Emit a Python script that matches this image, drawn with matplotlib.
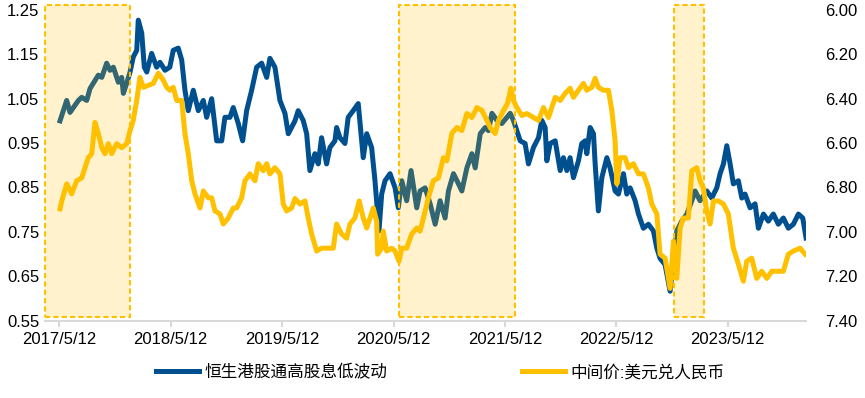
import matplotlib
matplotlib.use('Agg')
import matplotlib.pyplot as plt
import matplotlib.transforms as mtransforms
import matplotlib.dates as mdates
from matplotlib.patches import Rectangle
from matplotlib.ticker import FixedLocator, FormatStrFormatter
import pandas as pd

plt.rcParams['font.family'] = ['Liberation Sans', 'Noto Sans CJK SC']

# ---------------- data (time as decimal years) ----------------
blue_name = '恒生港股通高股息低波动'
cny_name = '中间价:美元兑人民币'

blue_t = [2017.365, 2017.425, 2017.455, 2017.530, 2017.560, 2017.605, 2017.635, 2017.679, 2017.709, 2017.740,
          2017.784, 2017.814, 2017.844, 2017.889, 2017.919, 2017.934, 2017.964, 2017.994, 2018.023, 2018.054,
          2018.068, 2018.099, 2018.122, 2018.144, 2018.188, 2018.233, 2018.263, 2018.308, 2018.351, 2018.382,
          2018.427, 2018.458, 2018.487, 2018.517, 2018.562, 2018.607, 2018.652, 2018.682, 2018.727, 2018.772,
          2018.817, 2018.846, 2018.891, 2018.921, 2018.966, 2019.005, 2019.041, 2019.086, 2019.131, 2019.176,
          2019.221, 2019.250, 2019.295, 2019.340, 2019.385, 2019.415, 2019.475, 2019.504, 2019.549, 2019.580,
          2019.609, 2019.654, 2019.684, 2019.714, 2019.759, 2019.789, 2019.834, 2019.849, 2019.879, 2019.924,
          2019.953, 2019.998, 2020.043, 2020.088, 2020.119, 2020.163, 2020.193, 2020.229, 2020.253, 2020.283,
          2020.328, 2020.373, 2020.402, 2020.433, 2020.477, 2020.516, 2020.567, 2020.597, 2020.642, 2020.687,
          2020.732, 2020.776, 2020.821, 2020.851, 2020.896, 2020.941, 2020.971, 2021.016, 2021.061, 2021.091,
          2021.136, 2021.180, 2021.210, 2021.241, 2021.286, 2021.330, 2021.375, 2021.405, 2021.434, 2021.465,
          2021.495, 2021.539, 2021.569, 2021.614, 2021.659, 2021.689, 2021.719, 2021.734, 2021.764, 2021.809,
          2021.854, 2021.883, 2021.914, 2021.943, 2021.973, 2022.018, 2022.048, 2022.078, 2022.093, 2022.123,
          2022.153, 2022.168, 2022.197, 2022.228, 2022.273, 2022.302, 2022.347, 2022.377, 2022.422, 2022.452,
          2022.482, 2022.527, 2022.557, 2022.601, 2022.646, 2022.691, 2022.722, 2022.751, 2022.796, 2022.841,
          2022.871, 2022.901, 2022.946, 2022.991, 2023.036, 2023.065, 2023.110, 2023.170, 2023.215, 2023.260,
          2023.290, 2023.320, 2023.350, 2023.380, 2023.409, 2023.454, 2023.485, 2023.514, 2023.559, 2023.604,
          2023.634, 2023.679, 2023.723, 2023.768, 2023.813, 2023.858, 2023.903, 2023.948, 2023.993, 2024.032,
          2024.062]
blue_v = [1.000, 1.046, 1.019, 1.046, 1.053, 1.046, 1.073, 1.091, 1.103, 1.098,
          1.130, 1.114, 1.121, 1.087, 1.098, 1.062, 1.085, 1.110, 1.144, 1.159,
          1.227, 1.198, 1.121, 1.110, 1.152, 1.121, 1.132, 1.114, 1.121, 1.159,
          1.164, 1.137, 1.069, 1.023, 1.069, 1.023, 1.046, 1.008, 1.050, 0.955,
          0.955, 1.008, 1.008, 1.030, 0.994, 0.955, 1.023, 1.069, 1.121, 1.130,
          1.098, 1.141, 1.121, 1.046, 1.017, 0.971, 1.000, 1.023, 1.001, 0.971,
          0.888, 0.926, 0.903, 0.962, 0.903, 0.940, 0.955, 0.985, 0.962, 0.949,
          1.008, 1.023, 1.039, 0.917, 0.971, 0.940, 0.865, 0.752, 0.835, 0.865,
          0.881, 0.849, 0.804, 0.865, 0.820, 0.888, 0.804, 0.842, 0.849, 0.813,
          0.767, 0.820, 0.781, 0.842, 0.881, 0.858, 0.842, 0.894, 0.926, 0.894,
          0.971, 0.985, 0.978, 1.017, 1.001, 0.994, 1.008, 1.017, 1.001, 0.978,
          0.955, 0.949, 0.903, 0.940, 0.962, 1.001, 0.985, 0.910, 0.949, 0.955,
          0.888, 0.917, 0.888, 0.917, 0.872, 0.910, 0.949, 0.955, 0.926, 0.985,
          0.971, 0.903, 0.797, 0.872, 0.917, 0.894, 0.842, 0.835, 0.881, 0.835,
          0.849, 0.820, 0.790, 0.758, 0.767, 0.752, 0.713, 0.690, 0.676, 0.616,
          0.684, 0.752, 0.774, 0.790, 0.820, 0.842, 0.820, 0.842, 0.826, 0.849,
          0.881, 0.903, 0.944, 0.903, 0.858, 0.865, 0.826, 0.835, 0.804, 0.813,
          0.758, 0.790, 0.774, 0.790, 0.767, 0.781, 0.758, 0.767, 0.790, 0.781,
          0.736]

cny_t = [2017.365, 2017.381, 2017.425, 2017.470, 2017.515, 2017.560, 2017.590, 2017.619, 2017.650, 2017.679,
         2017.709, 2017.740, 2017.769, 2017.799, 2017.829, 2017.874, 2017.919, 2017.964, 2017.994, 2018.023,
         2018.054, 2018.083, 2018.113, 2018.158, 2018.203, 2018.248, 2018.293, 2018.323, 2018.351, 2018.382,
         2018.413, 2018.458, 2018.487, 2018.517, 2018.548, 2018.577, 2018.622, 2018.652, 2018.697, 2018.727,
         2018.757, 2018.802, 2018.831, 2018.876, 2018.921, 2018.951, 2018.996, 2019.026, 2019.071, 2019.116,
         2019.145, 2019.190, 2019.221, 2019.250, 2019.295, 2019.340, 2019.370, 2019.400, 2019.445, 2019.475,
         2019.520, 2019.565, 2019.594, 2019.625, 2019.670, 2019.714, 2019.774, 2019.819, 2019.849, 2019.894,
         2019.939, 2019.969, 2020.013, 2020.052, 2020.088, 2020.119, 2020.148, 2020.178, 2020.208, 2020.217,
         2020.253, 2020.267, 2020.298, 2020.343, 2020.373, 2020.408, 2020.433, 2020.477, 2020.522, 2020.567,
         2020.597, 2020.627, 2020.671, 2020.716, 2020.761, 2020.806, 2020.837, 2020.881, 2020.926, 2020.971,
         2021.016, 2021.061, 2021.106, 2021.151, 2021.196, 2021.225, 2021.270, 2021.300, 2021.345, 2021.381,
         2021.411, 2021.434, 2021.465, 2021.510, 2021.555, 2021.614, 2021.659, 2021.704, 2021.749, 2021.779,
         2021.809, 2021.854, 2021.899, 2021.943, 2021.973, 2022.018, 2022.063, 2022.093, 2022.138, 2022.168,
         2022.197, 2022.242, 2022.287, 2022.318, 2022.347, 2022.363, 2022.392, 2022.437, 2022.467, 2022.512,
         2022.557, 2022.601, 2022.646, 2022.677, 2022.722, 2022.751, 2022.796, 2022.841, 2022.871, 2022.901,
         2022.931, 2022.960, 2023.005, 2023.036, 2023.081, 2023.110, 2023.140, 2023.170, 2023.200, 2023.230,
         2023.275, 2023.320, 2023.364, 2023.409, 2023.454, 2023.499, 2023.529, 2023.574, 2023.619, 2023.664,
         2023.709, 2023.754, 2023.799, 2023.858, 2023.903, 2023.948, 2024.008, 2024.053]
cny_v = [6.897, 6.861, 6.784, 6.829, 6.770, 6.757, 6.711, 6.666, 6.648, 6.507,
         6.557, 6.621, 6.648, 6.603, 6.648, 6.603, 6.621, 6.603, 6.544, 6.498,
         6.408, 6.304, 6.349, 6.340, 6.331, 6.285, 6.317, 6.349, 6.362, 6.349,
         6.408, 6.408, 6.557, 6.648, 6.770, 6.829, 6.893, 6.816, 6.847, 6.847,
         6.906, 6.920, 6.965, 6.938, 6.893, 6.893, 6.847, 6.770, 6.739, 6.770,
         6.693, 6.725, 6.693, 6.739, 6.711, 6.739, 6.875, 6.906, 6.893, 6.850,
         6.875, 6.861, 6.938, 7.010, 7.087, 7.074, 7.074, 7.074, 6.965, 7.010,
         7.029, 6.965, 6.938, 6.861, 6.938, 6.983, 6.938, 6.893, 6.952, 7.101,
         7.074, 6.997, 7.087, 7.074, 7.087, 7.133, 7.074, 7.074, 7.010, 6.983,
         6.997, 6.938, 6.847, 6.770, 6.757, 6.666, 6.680, 6.557, 6.530, 6.544,
         6.467, 6.485, 6.440, 6.453, 6.498, 6.530, 6.557, 6.498, 6.453, 6.421,
         6.353, 6.408, 6.440, 6.476, 6.467, 6.485, 6.498, 6.440, 6.485, 6.440,
         6.394, 6.408, 6.376, 6.353, 6.394, 6.362, 6.331, 6.362, 6.349, 6.308,
         6.349, 6.362, 6.362, 6.453, 6.589, 6.784, 6.666, 6.666, 6.711, 6.693,
         6.739, 6.739, 6.802, 6.875, 6.920, 7.101, 7.119, 7.255, 7.042, 7.210,
         6.983, 6.938, 6.938, 6.725, 6.711, 6.770, 6.802, 6.906, 6.965, 6.861,
         6.861, 6.875, 6.920, 7.074, 7.146, 7.223, 7.133, 7.119, 7.210, 7.178,
         7.210, 7.178, 7.178, 7.178, 7.101, 7.087, 7.074, 7.101]

shade_start = ['2017-03-26', '2020-05-31', '2022-11-16']
shade_end = ['2017-12-29', '2021-06-14', '2023-02-23']

x_ticks = ['2017-05-12', '2018-05-12', '2019-05-12', '2020-05-12', '2021-05-12', '2022-05-12', '2023-05-12']
x_tick_labels = ['2017/5/12', '2018/5/12', '2019/5/12', '2020/5/12', '2021/5/12', '2022/5/12', '2023/5/12']
x_range = ['2017-03-26', '2024-01-24']

left_ticks = [0.55, 0.65, 0.75, 0.85, 0.95, 1.05, 1.15, 1.25]
right_ticks = [6.00, 6.20, 6.40, 6.60, 6.80, 7.00, 7.20, 7.40]


def dec_to_date(ts):
    out = []
    for t in ts:
        y = int(t)
        start = pd.Timestamp(year=y, month=1, day=1)
        ndays = (pd.Timestamp(year=y + 1, month=1, day=1) - start).days
        out.append(start + pd.Timedelta(days=(t - y) * ndays))
    return out


BLUE = '#00508F'
GOLD = '#FFC000'
LW = 3.6

fig = plt.figure(figsize=(8.65, 3.98), dpi=100)
ax = fig.add_axes([0.052, 0.1947, 0.880, 0.7803])
ax2 = ax.twinx()

ax.plot(dec_to_date(blue_t), blue_v, color=BLUE, lw=LW, solid_joinstyle='round', zorder=2)
ax2.plot(dec_to_date(cny_t), cny_v, color=GOLD, lw=LW, solid_joinstyle='round', zorder=2)

ax.set_ylim(0.55, 1.25)
ax2.set_ylim(7.40, 6.00)
ax.set_xlim(pd.Timestamp(x_range[0]), pd.Timestamp(x_range[1]))

ax.yaxis.set_major_locator(FixedLocator(left_ticks))
ax.yaxis.set_major_formatter(FormatStrFormatter('%.2f'))
ax2.yaxis.set_major_locator(FixedLocator(right_ticks))
ax2.yaxis.set_major_formatter(FormatStrFormatter('%.2f'))

ax.set_xticks([pd.Timestamp(d) for d in x_ticks])
ax.set_xticklabels(x_tick_labels)

for s in ['top', 'left', 'right']:
    ax.spines[s].set_visible(False)
for s in ax2.spines.values():
    s.set_visible(False)
ax.spines['bottom'].set_color('#D9D9D9')
ax.spines['bottom'].set_linewidth(1.5)

ax.tick_params(axis='x', length=4, width=1.5, color='#D9D9D9', pad=4, labelsize=12, labelcolor='black')
ax.tick_params(axis='y', length=0, pad=4, labelsize=12, labelcolor='black')
ax2.tick_params(axis='y', length=0, pad=14, labelsize=12, labelcolor='black')

# shaded periods (drawn above the lines)
trans = mtransforms.blended_transform_factory(ax2.transData, ax2.transAxes)
for s, e in zip(shade_start, shade_end):
    x0 = mdates.date2num(pd.Timestamp(s))
    x1 = mdates.date2num(pd.Timestamp(e))
    ax2.add_patch(Rectangle((x0, 0.011), x1 - x0, 1.005, transform=trans,
                            facecolor=GOLD, alpha=0.2, edgecolor='none', zorder=5, clip_on=False))
    ax2.add_patch(Rectangle((x0, 0.011), x1 - x0, 1.005, transform=trans,
                            fill=False, edgecolor=GOLD, lw=1.5, linestyle=(0, (2.5, 1.5)),
                            zorder=6, clip_on=False))

h1, = ax.plot([], [], color=BLUE, lw=LW)
h2, = ax.plot([], [], color=GOLD, lw=LW)
fig.legend([h1, h2], [blue_name, cny_name], loc='center', bbox_to_anchor=(0.509, 0.065),
           ncol=2, frameon=False, fontsize=12, handlelength=2.6, handletextpad=0.3,
           columnspacing=8.1)

fig.savefig('out.png', dpi=100)
